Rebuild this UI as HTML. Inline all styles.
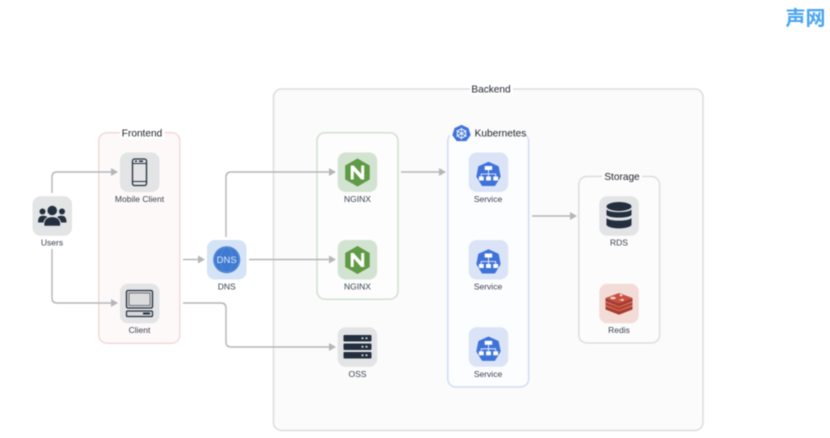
<!DOCTYPE html>
<html>
<head>
<meta charset="utf-8">
<style>
html,body{margin:0;padding:0;background:#fff;width:830px;height:438px;overflow:hidden}
svg{display:block;filter:blur(.45px)}
text{font-family:"Liberation Sans",sans-serif;text-anchor:middle}
.l{font-size:8.5px;fill:#3a4150}
.t{font-size:10.1px;fill:#20242c}
.c{fill:none;stroke:#b4b6b9;stroke-width:1.4}
.a{fill:#b4b6b9}
</style>
</head>
<body>
<svg width="830" height="438" viewBox="0 0 830 438" xmlns="http://www.w3.org/2000/svg">
<defs>
<g id="svc">
  <rect x="0" y="0" width="39.5" height="39.5" rx="8" fill="#dbe4f7"/>
  <polygon points="19.800,10 29.300,14.300 31.200,24 25.800,32.800 13.800,32.800 8.400,24 10.300,14.300" fill="#3f72d9" stroke="#3f72d9" stroke-width="1.500" stroke-linejoin="round"/>
  <rect x="16" y="13.500" width="7.500" height="4" fill="#fff"/>
  <path d="M19.800 17.500V21.500M12.500 24V21.500H27V24M19.800 21.500V24" stroke="#fff" stroke-width=".8" fill="none"/>
  <rect x="10.200" y="24" width="4.800" height="4" fill="#fff"/>
  <rect x="17.400" y="24" width="4.800" height="4" fill="#fff"/>
  <rect x="24.600" y="24" width="4.800" height="4" fill="#fff"/>
</g>
<g id="ngx">
  <rect x="0" y="0" width="39.5" height="39.5" rx="8" fill="#d3e3d1"/>
  <polygon points="19.800,6.500 31.500,13.300 31.500,26.700 19.800,33.500 8,26.700 8,13.300" fill="#5f9a44" stroke="#5f9a44" stroke-width="1" stroke-linejoin="round"/>
  <polygon points="13,13 16,13 23.500,21.500 23.500,13 26.500,13 26.500,27 23.500,27 16,18.500 16,27 13,27" fill="#fff"/>
</g>
</defs>

<!-- watermark -->
<text x="805.500" y="25" style="font-family:'Liberation Sans','Noto Sans CJK SC',sans-serif;font-size:20px;font-weight:700;fill:#4aa5f0">声网</text>

<!-- groups -->
<rect x="273.500" y="89" width="429.500" height="341.500" rx="8" fill="#fbfbfb" stroke="#dcdddd" stroke-width="1.500"/>
<rect x="98.800" y="132.700" width="81" height="210.500" rx="8" fill="#fef9f9" stroke="#f3d9d6" stroke-width="1.500"/>
<rect x="317" y="132.700" width="81" height="166.500" rx="8" fill="#fcfdfc" stroke="#cfe2cf" stroke-width="1.500"/>
<rect x="447.800" y="133" width="80.800" height="254" rx="8" fill="#fcfdff" stroke="#cfdcf6" stroke-width="1.500"/>
<rect x="578.800" y="176.500" width="80.800" height="166.500" rx="8" fill="#fcfcfc" stroke="#dcdddd" stroke-width="1.500"/>

<!-- group titles -->
<rect x="470" y="83" width="43" height="12" fill="#fff"/>
<text x="491" y="92.500" class="t">Backend</text>
<rect x="120" y="127" width="45" height="12" fill="#fff"/>
<text x="142" y="136.500" class="t">Frontend</text>
<rect x="602" y="171" width="40" height="12" fill="#fcfcfc"/>
<text x="622" y="180" class="t">Storage</text>
<rect x="450" y="126" width="76" height="12" fill="#fbfbfb"/>
<text x="500.500" y="136.500" class="t">Kubernetes</text>
<polygon points="461.500,125.500 468,128.500 470,135 466,140.500 457,140.500 453,135 455,128.500" fill="#3f72d9" stroke="#3f72d9" stroke-width="1.200" stroke-linejoin="round"/>
<circle cx="461.500" cy="133.500" r="4.300" fill="none" stroke="#fff" stroke-width="1"/>
<path d="M461.500 127.500V139.500M456.300 130.500L466.700 136.500M466.700 130.500L456.300 136.500" stroke="#fff" stroke-width=".8"/>

<!-- connectors -->
<path class="c" d="M52 193V177Q52 172 57 172H112"/>
<polygon class="a" points="111,168 118,172 111,176"/>
<path class="c" d="M52 249V298Q52 303 57 303H112"/>
<polygon class="a" points="111,299 118,303 111,307"/>
<path class="c" d="M183 259.500H199"/>
<polygon class="a" points="198,255.500 205,259.500 198,263.500"/>
<path class="c" d="M226 237V177Q226 172 231 172H330"/>
<polygon class="a" points="329,168 336,172 329,176"/>
<path class="c" d="M249 259.500H330"/>
<polygon class="a" points="329,255.500 336,259.500 329,263.500"/>
<path class="c" d="M183 303H221Q226 303 226 308V342Q226 347 231 347H330"/>
<polygon class="a" points="329,343 336,347 329,351"/>
<path class="c" d="M401 172H440"/>
<polygon class="a" points="439,168 446,172 439,176"/>
<path class="c" d="M532 216H571"/>
<polygon class="a" points="570,212 577,216 570,220"/>

<!-- Users -->
<rect x="32.500" y="196.300" width="39.500" height="39.500" rx="8" fill="#e3e4e5"/>
<g fill="#232f3e">
  <circle cx="42.500" cy="211.500" r="3"/>
  <circle cx="62" cy="211.500" r="3"/>
  <path d="M38 222.500C38 218 39.500 215.800 43 215.800C46 215.800 48 217 48 219V222.500Z"/>
  <path d="M66.500 222.500C66.500 218 65 215.800 61.500 215.800C58.500 215.800 56.500 217 56.500 219V222.500Z"/>
  <circle cx="52.200" cy="210.500" r="5.200" stroke="#e3e4e5" stroke-width=".8"/>
  <path d="M44 226.300C43 220 46.500 216.600 52.200 216.600S61.500 220 60.500 226.300Z" stroke="#e3e4e5" stroke-width="1" stroke-linejoin="round"/>
</g>
<text x="52" y="245.500" class="l">Users</text>

<!-- Mobile -->
<rect x="120" y="152.500" width="39.500" height="39.500" rx="8" fill="#e3e4e5"/>
<rect x="132.500" y="159" width="14" height="26.500" rx="2" fill="none" stroke="#232f3e" stroke-width="1.300"/>
<path d="M132.500 163.500H146.500M132.500 181.500H146.500" stroke="#232f3e" stroke-width="1"/>
<rect x="135" y="160.500" width="2" height="1.500" fill="#232f3e"/>
<rect x="139" y="160.500" width="4" height="1.500" fill="#232f3e"/>
<text x="139.500" y="202" class="l">Mobile Client</text>

<!-- Client -->
<rect x="120" y="283.800" width="39.500" height="39.500" rx="8" fill="#e3e4e5"/>
<rect x="126.500" y="290.500" width="26" height="17.500" rx="1.500" fill="#d8d9da" stroke="#232f3e" stroke-width="1.300"/>
<rect x="129" y="293" width="21" height="12.500" fill="#dcdcdd" stroke="#232f3e" stroke-width=".6"/>
<rect x="126.500" y="311" width="26" height="5.500" rx="1" fill="#d8d9da" stroke="#232f3e" stroke-width="1.200"/>
<rect x="143" y="312.500" width="7" height="2" fill="#232f3e"/>
<text x="139.500" y="333" class="l">Client</text>

<!-- DNS -->
<rect x="207" y="240" width="39.500" height="39.500" rx="8" fill="#d4e3f6"/>
<circle cx="226.700" cy="259.700" r="13.500" fill="#3f7ad0"/>
<circle cx="226.700" cy="259.700" r="12.500" fill="none" stroke="#6b9ae0" stroke-width=".5"/>
<ellipse cx="226.700" cy="259.700" rx="6" ry="12.500" fill="none" stroke="#6b9ae0" stroke-width=".4"/>
<text x="226.700" y="263.200" style="font-size:9.500px;fill:#dce8fa">DNS</text>
<text x="226.700" y="289.500" class="l">DNS</text>

<!-- NGINX -->
<use href="#ngx" x="337.700" y="152.500"/>
<text x="357.500" y="202" class="l">NGINX</text>
<use href="#ngx" x="337.700" y="240"/>
<text x="357.500" y="289.500" class="l">NGINX</text>

<!-- OSS -->
<rect x="337.700" y="327.300" width="39.500" height="39.500" rx="8" fill="#e3e4e5"/>
<g fill="#232f3e">
  <rect x="343.500" y="335" width="28" height="6.500" rx="1"/>
  <rect x="343.500" y="343.500" width="28" height="6.500" rx="1"/>
  <rect x="343.500" y="352" width="28" height="6.500" rx="1"/>
</g>
<g fill="#e8e9ea">
  <circle cx="362.500" cy="338.200" r="1"/><circle cx="366.500" cy="338.200" r="1"/>
  <circle cx="362.500" cy="346.700" r="1"/><circle cx="366.500" cy="346.700" r="1"/>
  <circle cx="362.500" cy="355.200" r="1"/><circle cx="366.500" cy="355.200" r="1"/>
</g>
<text x="357.500" y="377" class="l">OSS</text>

<!-- Services -->
<use href="#svc" x="468.700" y="152.500"/>
<text x="488" y="202" class="l">Service</text>
<use href="#svc" x="468.700" y="240"/>
<text x="488" y="289.500" class="l">Service</text>
<use href="#svc" x="468.700" y="327.300"/>
<text x="488" y="377" class="l">Service</text>

<!-- RDS -->
<rect x="599.300" y="196.300" width="39.500" height="39.500" rx="8" fill="#e3e4e5"/>
<g fill="#232f3e">
  <ellipse cx="619" cy="206.500" rx="12.500" ry="4.500"/>
  <path d="M606.500 209.500C609 213 629 213 631.500 209.500V215C629 218.500 609 218.500 606.500 215Z"/>
  <path d="M606.500 218C609 221.500 629 221.500 631.500 218V225C629 229.500 609 229.500 606.500 225Z"/>
</g>
<text x="619" y="245.500" class="l">RDS</text>

<!-- Redis -->
<rect x="599.300" y="283.800" width="39.500" height="39.500" rx="8" fill="#f3dcd8"/>
<g>
  <path d="M605.500 306L619 311L632.500 306V309.500L619 314.800L605.500 309.500Z" fill="#a93c2e"/>
  <path d="M605.500 302L619 307L632.500 302V305.500L619 310.800L605.500 305.500Z" fill="#b8432f"/>
  <path d="M605.500 298L619 303L632.500 298V301.500L619 306.800L605.500 301.500Z" fill="#a93c2e"/>
  <polygon points="605.500,298 619,293 632.500,298 619,303" fill="#c9503f"/>
  <ellipse cx="613" cy="298" rx="2.800" ry="1.200" fill="#f4dcd8"/>
  <polygon points="620,294 623,295.300 621,296.500 619.500,295.300" fill="#f8e8e5"/>
  <polygon points="619,299.800 624,298.800 623,301.300" fill="#f4dcd8"/>
</g>
<text x="619" y="333" class="l">Redis</text>
</svg>
</body>
</html>
